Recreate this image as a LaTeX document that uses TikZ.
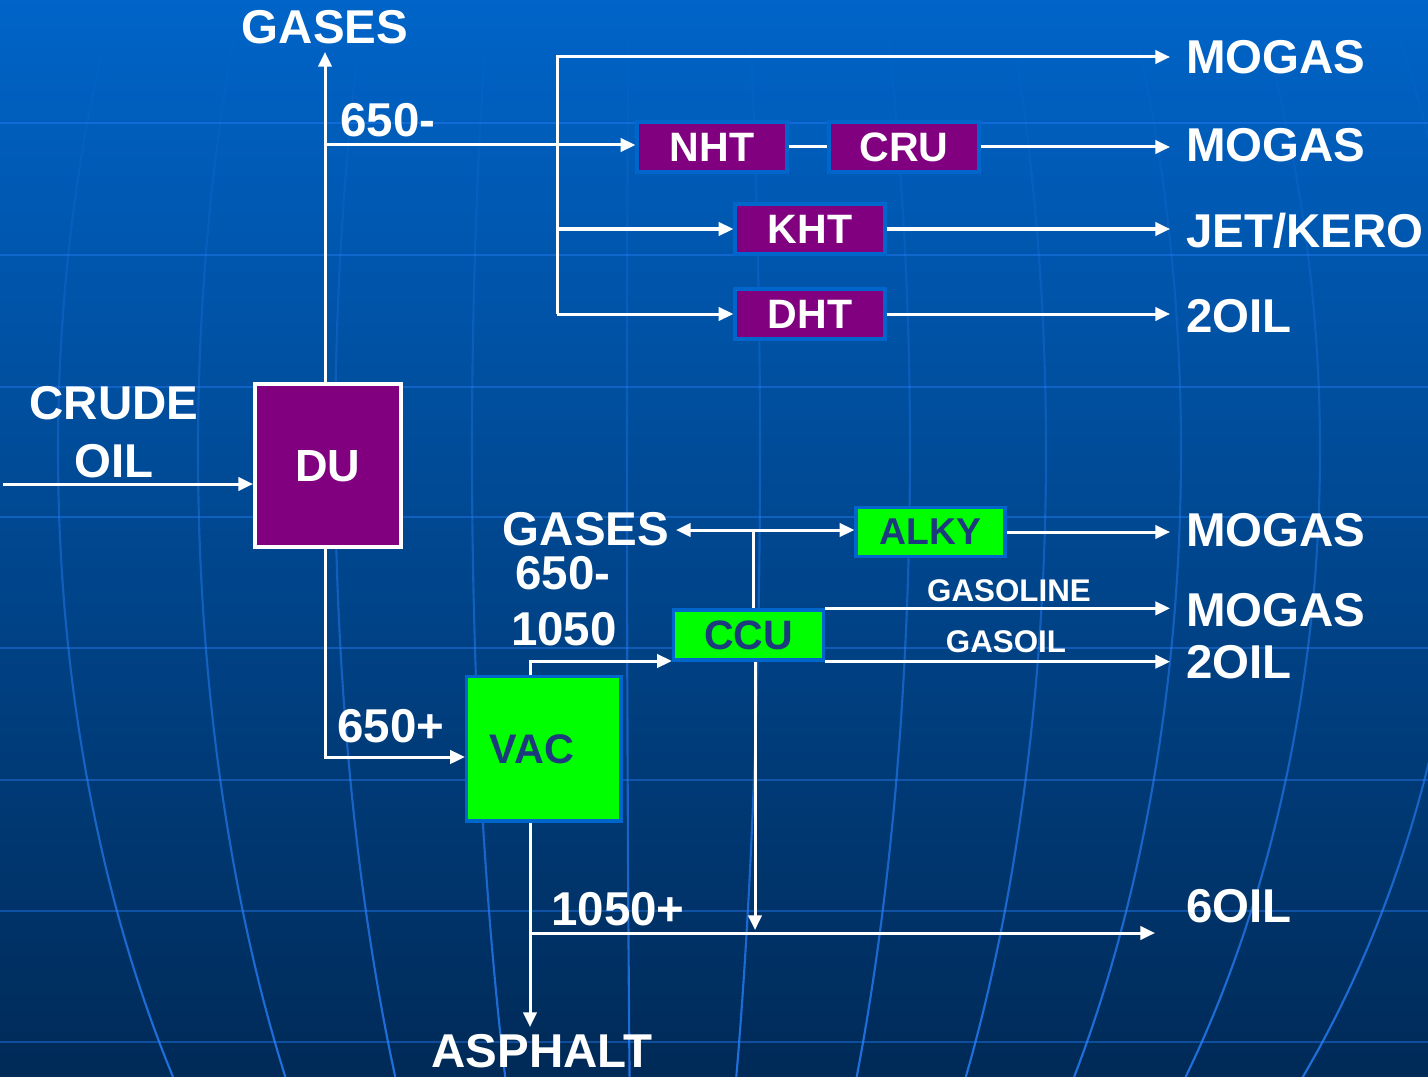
\documentclass[tikz,border=0pt]{standalone}
\usepackage{fontspec}
\setmainfont{Liberation Sans}
\usetikzlibrary{arrows.meta,fadings}
\definecolor{bgtop}{RGB}{0,100,200}
\definecolor{bgmid}{RGB}{0,73,143}
\definecolor{bgbot}{RGB}{0,42,87}
\definecolor{gridc}{RGB}{40,130,255}
\definecolor{purp}{RGB}{128,0,128}
\definecolor{grn}{RGB}{0,255,0}
\definecolor{bord}{RGB}{0,102,204}
\definecolor{navy}{RGB}{28,58,125}
\begin{document}
\begin{tikzpicture}[x=0.75pt,y=-0.75pt,
 flow/.style={draw=white,line width=2.25pt},
 arr/.style={flow,-{Triangle[length=11pt,width=10pt]}},
 lbl/.style={text=white,font=\fontsize{35.6pt}{40pt}\selectfont\bfseries,inner sep=0pt,text depth=0pt},
 rlbl/.style={lbl,anchor=west},
 small/.style={lbl,font=\fontsize{23.5pt}{26pt}\selectfont\bfseries},
 pbox/.style={draw=bord,fill=purp,line width=2.5pt,text=white,font=\fontsize{30.8pt}{34pt}\selectfont\bfseries,minimum width=112.5pt,minimum height=37.5pt,inner sep=0pt,text depth=0pt},
 gbox/.style={pbox,fill=grn,text=navy},
 gridline/.style={draw=gridc,opacity=0.4,line width=1.6pt},
 meridian/.style={draw=gridc,opacity=0.8,line width=1.6pt,path fading=north}]
\useasboundingbox (0,0) rectangle (1428,1077);
% background
\shade[top color=bgtop, middle color=bgmid, bottom color=bgbot] (0,0) rectangle (1428,1077);
\begin{scope}
\clip (0,0) rectangle (1428,1077);
\foreach \yy in {123,255,387,517,648,780,911,1042}
  \draw[gridline] (0,\yy) -- (1428,\yy);
\foreach \d in {-582,-442,-305,-168,-13,120,270,406,541,680,826}
  \draw[meridian] plot[domain=0:1077,samples=40,smooth] ({640+\d*sqrt(1-((\x-450)/1050)^2)},\x);
\end{scope}

% boxes
\node[pbox,draw=white,line width=3pt,minimum width=109.5pt,minimum height=122.25pt,font=\fontsize{33.8pt}{38pt}\selectfont\bfseries] (du) at (328,465.5) {DU};
\node[pbox] (nht) at (712,147) {NHT};
\node[pbox] (cru) at (904,147) {CRU};
\node[pbox] (kht) at (810,229) {KHT};
\node[pbox] (dht) at (810,314) {DHT};
\node[gbox,minimum width=115.9pt,minimum height=108.4pt,font=\fontsize{31pt}{34pt}\selectfont\bfseries] (vac) at (543.8,748.8) {VAC\rule{18pt}{0pt}};
\node[gbox] (ccu) at (748.5,635) {CCU};
\node[gbox,minimum width=111.75pt,minimum height=36.75pt,font=\fontsize{28pt}{31pt}\selectfont\bfseries] (alky) at (930.5,532) {ALKY};

% labels
\node[lbl] (gases1) at (325,27) {GASES};
\node[lbl] (l650a) at (388,120) {650-};
\node[lbl] (crude) at (114,403) {CRUDE};
\node[lbl] (oil) at (114,461) {OIL};
\node[lbl] (gases2) at (586,529) {GASES};
\node[lbl] (l650b) at (563,573) {650-};
\node[lbl] (l1050) at (564,629) {1050};
\node[lbl] (l650p) at (391,726) {650+};
\node[lbl] (l1050p) at (618,909) {1050+};
\node[lbl] (asphalt) at (542,1051) {ASPHALT};
\node[small] (gasoline) at (1009,591) {GASOLINE};
\node[small] (gasoil) at (1006,642) {GASOIL};
\node[rlbl] (mogas1) at (1186,57) {MOGAS};
\node[rlbl] (mogas2) at (1186,145) {MOGAS};
\node[rlbl] (jet) at (1186,230) {JET/KERO};
\node[rlbl] (oil2a) at (1186,316) {2OIL};
\node[rlbl] (mogas3) at (1186,530) {MOGAS};
\node[rlbl] (mogas4) at (1186,610) {MOGAS};
\node[rlbl] (oil2b) at (1186,662) {2OIL};
\node[rlbl] (oil6) at (1186,906) {6OIL};

% coordinates
\coordinate (rt) at (1170,0);
\coordinate (j1) at (325,145);
\coordinate (g1tip) at (325,52);
\coordinate (vtop) at (557,57);
\coordinate (crs) at (3,484);
\coordinate (j2) at (325,757);
\coordinate (j3) at (530,661);
\coordinate (j4) at (753,530);
\coordinate (g2tip) at (676,530);
\coordinate (j5) at (755,930);
\coordinate (atip) at (530,1027);
\coordinate (j6) at (530,933);
\coordinate (t6) at (1155,933);

% connectors
\draw[arr] (du.north -| j1) -- (g1tip);
\draw[arr] (j1) -- (j1 -| nht.west);
\draw[arr] (vtop |- dht.west) -- (vtop) -- (vtop -| rt);
\draw[arr] (vtop |- kht.west) -- (kht.west);
\draw[arr] (vtop |- dht.west) -- (dht.west);
\draw[flow] (nht.east) -- (cru.west);
\draw[arr] (cru.east) -- (cru.east -| rt);
\draw[arr] (kht.east) -- (kht.east -| rt);
\draw[arr] (dht.east) -- (dht.east -| rt);
\draw[arr] (crs) -- (crs -| du.west);
\draw[arr] (du.south -| j2) -- (j2) -- (j2 -| vac.west);
\draw[arr] (vac.north -| j3) -- (j3) -- (j3 -| ccu.west);
\draw[flow] (ccu.north -| j4) -- (j4);
\draw[arr] (j4) -- (g2tip);
\draw[arr] (j4) -- (j4 -| alky.west);
\draw[arr] (alky.east) -- (alky.east -| rt);
\draw[arr] (ccu.north east) -- (ccu.north east -| rt);
\draw[arr] (ccu.south east) -- (ccu.south east -| rt);
\draw[arr] (ccu.south -| j5) -- (j5);
\draw[arr] (vac.south -| atip) -- (atip);
\draw[arr] (j6) -- (t6);
\end{tikzpicture}
\end{document}
